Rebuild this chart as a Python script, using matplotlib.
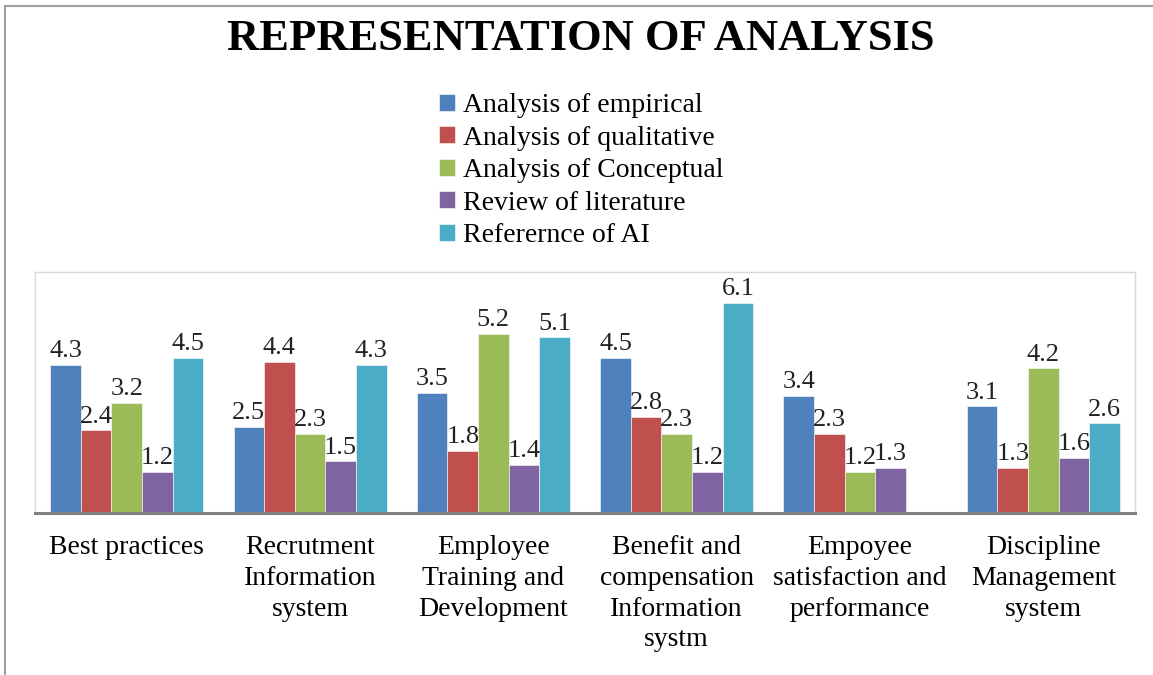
import numpy as np
import matplotlib
matplotlib.use("Agg")
import matplotlib.pyplot as plt
from matplotlib.lines import Line2D

categories = ["Best practices", "Recrutment\nInformation\nsystem", "Employee\nTraining and\nDevelopment",
              "Benefit and\ncompensation\nInformation\nsystm", "Empoyee\nsatisfaction and\nperformance",
              "Discipline\nManagement\nsystem"]
series_names = ["Analysis of empirical", "Analysis of qualitative", "Analysis of Conceptual",
                "Review of literature", "Referernce of AI"]
empirical = [4.3, 2.5, 3.5, 4.5, 3.4, 3.1]
qualitative = [2.4, 4.4, 1.8, 2.8, 2.3, 1.3]
conceptual = [3.2, 2.3, 5.2, 2.3, 1.2, 4.2]
literature = [1.2, 1.5, 1.4, 1.2, 1.3, 1.6]
reference_ai = [4.5, 4.3, 5.1, 6.1, None, 2.6]

colors = ["#4F81BD", "#C0504D", "#9BBB59", "#8064A2", "#4BACC6"]
serif = "Liberation Serif"

fig = plt.figure(figsize=(11.53, 6.75), dpi=100)
ax = fig.add_axes([0.0304, 0.240, 0.954, 0.357])

x = np.arange(len(categories))
w = 0.167
all_series = [empirical, qualitative, conceptual, literature, reference_ai]
for i, (vals, col, name) in enumerate(zip(all_series, colors, series_names)):
    pos = x + (i - 2) * w
    v = [np.nan if a is None else a for a in vals]
    ax.bar(pos, v, width=w, color=col, label=name, edgecolor="white", linewidth=0.4)
    for p, a in zip(pos, vals):
        if a is None:
            continue
        ax.text(p, a + 0.08, f"{a}", ha="center", va="bottom", fontsize=19,
                family=serif, color="#222222")

ax.set_xlim(-0.5, 5.5)
ax.set_ylim(0, 7)
ax.set_yticks([])
ax.set_xticks(x)
ax.set_xticklabels(categories, fontsize=20, family=serif, linespacing=1.3)
ax.tick_params(axis="x", length=0, pad=16)
for s in ["top", "right", "left"]:
    ax.spines[s].set_color("#D9D9D9")
    ax.spines[s].set_linewidth(1)
ax.spines["bottom"].set_color("#808080")
ax.spines["bottom"].set_linewidth(2.2)

fig.text(0.504, 0.942, "REPRESENTATION OF ANALYSIS", ha="center", va="center",
         fontsize=32, fontweight="bold", family=serif)

fig.legend(loc="upper left", bbox_to_anchor=(0.381, 0.862), frameon=False,
           prop={"family": serif, "size": 20}, handlelength=0.55, handleheight=0.55,
           handletextpad=0.3, labelspacing=0.27, borderpad=0, borderaxespad=0)

# outer frame of the picture
fig.add_artist(Line2D([0.004, 0.004], [0, 0.991], transform=fig.transFigure, color="#A0A0A0", lw=1.5))
fig.add_artist(Line2D([0.004, 1.0], [0.991, 0.991], transform=fig.transFigure, color="#A0A0A0", lw=1.5))

fig.savefig("out.png", dpi=100)
